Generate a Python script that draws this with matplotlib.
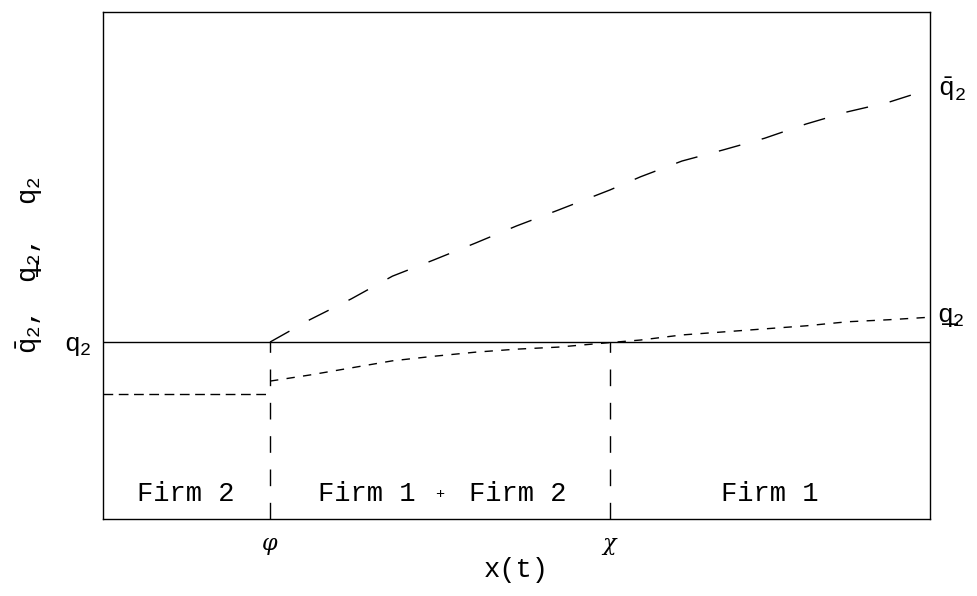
import matplotlib
matplotlib.use("Agg")
import matplotlib.pyplot as plt

plt.rcParams['mathtext.fontset'] = 'custom'
plt.rcParams['mathtext.rm'] = 'Liberation Mono'
plt.rcParams['mathtext.it'] = 'Liberation Mono'
plt.rcParams['mathtext.bf'] = 'Liberation Mono'
plt.rcParams['font.family'] = ['Liberation Mono', 'DejaVu Sans']

# ---- data ----
phi = 20.2
chi = 61.3
q2_level = 34.9
low_flat = 24.7

curve_x = [20.2, 25, 30, 35, 40, 45, 50, 55, 61.3, 65, 70, 75, 80, 85, 90, 95, 100]
upper_y = [34.9, 39.3, 43.4, 47.9, 51.1, 54.4, 57.8, 60.9, 64.9, 67.5, 70.6,
           72.8, 75.1, 77.9, 80.3, 82.2, 84.8]
lower_y = [27.2, 28.4, 29.8, 31.2, 32.1, 32.9, 33.5, 33.9, 34.8, 35.3, 36.3,
           36.9, 37.5, 38.1, 38.9, 39.3, 39.8]

region_labels = ["Firm 2", "Firm 1", "+", "Firm 2", "Firm 1"]
region_x = [10.0, 37.8, 40.7, 44.2, 80.6]
region_ha = ['center', 'right', 'center', 'left', 'center']
region_size = [19.5, 19.5, 11, 19.5, 19.5]

UL = r'$\_\hspace{-1.35}q_2$'  # underlined q with subscript 2
BAR = r'$\bar{q}_2$'
PLAIN = r'$q_2$'

fig = plt.figure(figsize=(9.77, 5.96), dpi=100)
ax = fig.add_axes([103/977, 1 - 519/596, 827/977, 507/596])
ax.set_xlim(0, 100)
ax.set_ylim(0, 100)

lw = 1.0
ax.axhline(q2_level, color='black', lw=lw)
ax.plot([0, phi], [low_flat, low_flat], color='black', lw=lw, dashes=(7, 4))
ax.plot(curve_x, upper_y, color='black', lw=lw, dashes=(16, 16))
ax.plot(curve_x, lower_y, color='black', lw=lw, dashes=(6, 6))
for xv in (phi, chi):
    ax.plot([xv, xv], [0, q2_level], color='black', lw=lw, dashes=(12, 12))

for s in ax.spines.values():
    s.set_linewidth(1.0)

for lab, xv, ha, fs in zip(region_labels, region_x, region_ha, region_size):
    ax.text(xv, 5, lab, ha=ha, va='center', fontsize=fs)

ax.set_xticks([phi, chi])
ax.set_xticklabels([r'$\varphi$', r'$\chi$'])
for t in ax.get_xticklabels():
    t.set_math_fontfamily('dejavuserif')
    t.set_fontsize(16)
ax.tick_params(axis='x', length=0, pad=12)
ax.set_yticks([q2_level])
ax.set_yticklabels([PLAIN])
ax.tick_params(axis='y', length=0, pad=8, labelsize=19)

ax.text(1.01, upper_y[-1], BAR, transform=ax.get_yaxis_transform(),
        ha='left', va='center', fontsize=19)
ax.text(1.01, lower_y[-1], UL, transform=ax.get_yaxis_transform(),
        ha='left', va='center', fontsize=19)

ax.set_xlabel('x(t)', fontsize=19.5, labelpad=0)
ax.set_ylabel(BAR + ',  ' + UL + ',  ' + PLAIN, fontsize=19.5, labelpad=14)

fig.savefig('out.png', dpi=100)
